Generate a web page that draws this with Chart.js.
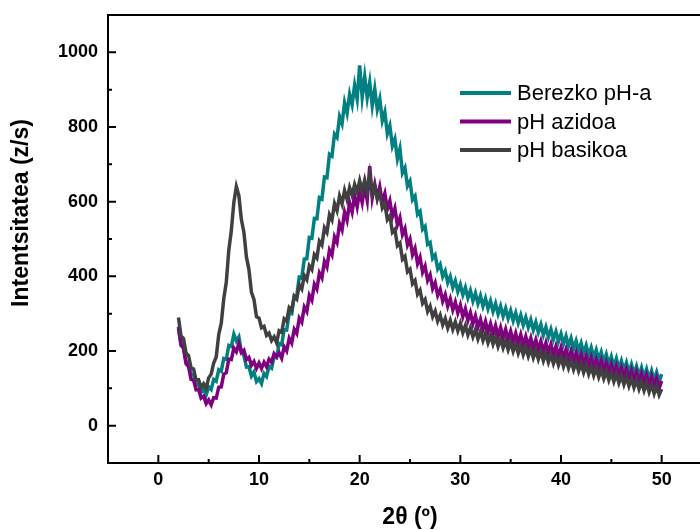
<!DOCTYPE html>
<html>
<head>
<meta charset="utf-8">
<script src="https://cdn.jsdelivr.net/npm/chart.js@4"></script>
<style>
  html, body { margin: 0; padding: 0; background: #fff; overflow: hidden; }
  #wrap { width: 720px; height: 530px; }
</style>
</head>
<body>
<div id="wrap"><canvas id="xrd" width="720" height="530"></canvas></div>
<script>
// 2-theta positions (deg), 0.25 step
const twoTheta = [
  2, 2.25, 2.5, 2.75, 3, 3.25, 3.5, 3.75, 4, 4.25, 4.5, 4.75, 5, 5.25, 5.5, 5.75,
  6, 6.25, 6.5, 6.75, 7, 7.25, 7.5, 7.75, 8, 8.25, 8.5, 8.75, 9, 9.25, 9.5, 9.75,
  10, 10.25, 10.5, 10.75, 11, 11.25, 11.5, 11.75, 12, 12.25, 12.5, 12.75, 13, 13.25, 13.5, 13.75,
  14, 14.25, 14.5, 14.75, 15, 15.25, 15.5, 15.75, 16, 16.25, 16.5, 16.75, 17, 17.25, 17.5, 17.75,
  18, 18.25, 18.5, 18.75, 19, 19.25, 19.5, 19.75, 20, 20.25, 20.5, 20.75, 21, 21.25, 21.5, 21.75,
  22, 22.25, 22.5, 22.75, 23, 23.25, 23.5, 23.75, 24, 24.25, 24.5, 24.75, 25, 25.25, 25.5, 25.75,
  26, 26.25, 26.5, 26.75, 27, 27.25, 27.5, 27.75, 28, 28.25, 28.5, 28.75, 29, 29.25, 29.5, 29.75,
  30, 30.25, 30.5, 30.75, 31, 31.25, 31.5, 31.75, 32, 32.25, 32.5, 32.75, 33, 33.25, 33.5, 33.75,
  34, 34.25, 34.5, 34.75, 35, 35.25, 35.5, 35.75, 36, 36.25, 36.5, 36.75, 37, 37.25, 37.5, 37.75,
  38, 38.25, 38.5, 38.75, 39, 39.25, 39.5, 39.75, 40, 40.25, 40.5, 40.75, 41, 41.25, 41.5, 41.75,
  42, 42.25, 42.5, 42.75, 43, 43.25, 43.5, 43.75, 44, 44.25, 44.5, 44.75, 45, 45.25, 45.5, 45.75,
  46, 46.25, 46.5, 46.75, 47, 47.25, 47.5, 47.75, 48, 48.25, 48.5, 48.75, 49, 49.25, 49.5, 49.75,
  50
];

// Berezko pH-a
const berezko = [
  260, 215, 208, 172, 168, 137, 136, 109, 112, 89, 98, 82, 104, 97, 124, 119,
  150, 146, 180, 178, 215, 212, 245, 227, 238, 197, 188, 157, 158, 133, 144, 118,
  126, 113, 140, 132, 159, 154, 185, 182, 220, 217, 257, 256, 302, 300, 347, 348,
  398, 396, 446, 447, 504, 502, 555, 554, 611, 607, 666, 664, 727, 722, 781, 772,
  828, 809, 865, 837, 888, 860, 912, 875, 965, 880, 935, 878, 920, 857, 902, 847,
  875, 817, 840, 782, 803, 749, 768, 715, 742, 677, 691, 642, 655, 605, 615, 566,
  574, 526, 534, 486, 491, 448, 457, 420, 432, 399, 414, 383, 400, 370, 388, 359,
  378, 350, 370, 342, 362, 334, 355, 327, 348, 320, 341, 313, 334, 306, 327, 299,
  320, 293, 314, 287, 308, 281, 302, 275, 296, 269, 290, 263, 284, 256, 277, 250,
  271, 243, 264, 237, 258, 231, 252, 225, 246, 219, 240, 213, 234, 206, 227, 200,
  221, 194, 215, 188, 209, 182, 203, 176, 197, 170, 191, 164, 185, 158, 180, 153,
  174, 148, 169, 142, 164, 138, 159, 133, 155, 129, 151, 125, 147, 121, 143, 118,
  138
];

// pH azidoa
const azidoa = [
  265, 218, 208, 166, 158, 124, 122, 96, 97, 74, 79, 59, 69, 56, 75, 74,
  103, 104, 138, 142, 178, 177, 208, 198, 220, 196, 202, 177, 183, 162, 172, 154,
  168, 153, 170, 158, 178, 170, 193, 185, 195, 181, 211, 200, 234, 221, 258, 247,
  288, 277, 318, 306, 349, 336, 379, 366, 409, 396, 440, 425, 470, 457, 506, 491,
  541, 524, 572, 550, 597, 572, 616, 586, 628, 597, 640, 604, 695, 610, 646, 610,
  640, 600, 622, 580, 602, 560, 582, 538, 557, 512, 528, 484, 500, 458, 475, 434,
  451, 411, 427, 389, 404, 367, 383, 349, 365, 333, 351, 320, 340, 310, 331, 302,
  323, 292, 313, 282, 303, 273, 294, 264, 285, 257, 279, 251, 273, 245, 268, 240,
  263, 235, 258, 230, 253, 225, 248, 221, 244, 216, 239, 212, 235, 207, 230, 203,
  226, 199, 222, 195, 218, 190, 213, 186, 209, 181, 204, 177, 200, 172, 195, 168,
  191, 163, 186, 159, 182, 154, 177, 150, 173, 145, 168, 141, 164, 136, 159, 132,
  155, 128, 151, 124, 147, 120, 143, 116, 139, 112, 135, 108, 131, 104, 127, 100,
  120
];

// pH basikoa
const basikoa = [
  290, 240, 233, 195, 188, 155, 152, 122, 123, 102, 112, 100, 128, 138, 168, 184,
  244, 274, 340, 384, 470, 522, 598, 640, 616, 552, 518, 452, 418, 357, 338, 292,
  288, 262, 266, 242, 248, 228, 238, 222, 254, 250, 286, 280, 316, 309, 347, 339,
  377, 366, 402, 391, 428, 418, 458, 449, 494, 484, 530, 518, 565, 551, 595, 576,
  615, 594, 630, 606, 638, 617, 646, 626, 656, 628, 658, 628, 672, 620, 642, 607,
  624, 583, 594, 552, 562, 518, 526, 482, 489, 446, 454, 412, 419, 380, 389, 352,
  363, 328, 338, 306, 320, 292, 307, 280, 296, 270, 287, 262, 282, 258, 278, 254,
  274, 249, 268, 243, 262, 238, 257, 232, 252, 228, 247, 222, 242, 218, 237, 212,
  232, 208, 227, 203, 223, 199, 218, 194, 214, 190, 210, 186, 206, 182, 202, 178,
  198, 174, 194, 170, 190, 166, 186, 162, 182, 158, 178, 154, 174, 150, 170, 146,
  166, 142, 162, 138, 158, 134, 154, 130, 150, 126, 146, 122, 142, 118, 138, 114,
  134, 110, 130, 106, 126, 102, 122, 98, 118, 94, 114, 90, 110, 86, 106, 82,
  98
];

const seriesNames = ['Berezko pH-a', 'pH azidoa', 'pH basikoa'];
const seriesColors = ['#008080', '#800080', '#404040'];

const xTicks = [0, 10, 20, 30, 40, 50];
const xMinor = [5, 15, 25, 35, 45];
const yTicks = [0, 200, 400, 600, 800, 1000];
const yMinor = [100, 300, 500, 700, 900];

Chart.defaults.font.family = '"Liberation Sans", Arial, sans-serif';
Chart.defaults.color = '#000';

const toPoints = (vals) => vals.map((v, i) => ({ x: twoTheta[i], y: v }));

// frame, inward tick marks, axis titles, legend
const frameTicks = {
  id: 'frameTicks',
  afterDraw(chart) {
    const { ctx, chartArea: a, scales: { x, y } } = chart;
    ctx.save();
    ctx.strokeStyle = '#000';
    ctx.lineWidth = 2;
    ctx.beginPath();
    ctx.moveTo(a.left, a.top); ctx.lineTo(a.right, a.top);
    ctx.lineTo(a.right, a.bottom); ctx.lineTo(a.left, a.bottom);
    ctx.closePath();
    yTicks.forEach(v => { const p = y.getPixelForValue(v); ctx.moveTo(a.left, p); ctx.lineTo(a.left + 8, p); });
    yMinor.forEach(v => { const p = y.getPixelForValue(v); ctx.moveTo(a.left, p); ctx.lineTo(a.left + 4, p); });
    xTicks.forEach(v => { const p = x.getPixelForValue(v); ctx.moveTo(p, a.bottom); ctx.lineTo(p, a.bottom - 8); });
    xMinor.forEach(v => { const p = x.getPixelForValue(v); ctx.moveTo(p, a.bottom); ctx.lineTo(p, a.bottom - 4); });
    ctx.stroke();

    ctx.fillStyle = '#000';
    ctx.font = 'bold 23px "Liberation Sans", Arial, sans-serif';
    ctx.textAlign = 'center';
    ctx.textBaseline = 'middle';
    ctx.fillText('2θ (º)', (a.left + a.right) / 2, 518);
    ctx.translate(22, 213);
    ctx.rotate(-Math.PI / 2);
    ctx.fillText('Intentsitatea (z/s)', 0, 0);
    ctx.restore();

    ctx.save();
    ctx.font = '22px "Liberation Sans", Arial, sans-serif';
    ctx.textAlign = 'left';
    ctx.textBaseline = 'middle';
    ctx.lineWidth = 4;
    chart.data.datasets.forEach((ds, i) => {
      const ly = 93 + i * 28.5;
      ctx.strokeStyle = ds.borderColor;
      ctx.beginPath();
      ctx.moveTo(460, ly); ctx.lineTo(511, ly);
      ctx.stroke();
      ctx.fillStyle = '#000';
      ctx.fillText(ds.label, 517, ly + 1);
    });
    ctx.restore();
  }
};

new Chart(document.getElementById('xrd'), {
  type: 'line',
  data: {
    datasets: [
      { label: seriesNames[0], data: toPoints(berezko), borderColor: seriesColors[0], order: 2 },
      { label: seriesNames[1], data: toPoints(azidoa), borderColor: seriesColors[1], order: 1 },
      { label: seriesNames[2], data: toPoints(basikoa), borderColor: seriesColors[2], order: 0 }
    ]
  },
  options: {
    responsive: false,
    animation: false,
    datasets: { line: { borderWidth: 3.5, pointRadius: 0, tension: 0, fill: false } },
    layout: { padding: { top: 15, right: 8, left: 0, bottom: 0 } },
    plugins: { legend: { display: false }, tooltip: { enabled: false } },
    scales: {
      x: {
        type: 'linear',
        min: -5, max: 55,
        grid: { display: false, drawTicks: false },
        border: { display: false },
        afterBuildTicks: (s) => { s.ticks = xTicks.map(v => ({ value: v })); },
        afterFit: (s) => { s.height = 67; s.paddingLeft = 0; s.paddingRight = 0; },
        ticks: { padding: 6, maxRotation: 0, font: { size: 18, weight: 'bold' }, callback: (v) => String(v) }
      },
      y: {
        min: -100, max: 1100,
        grid: { display: false, drawTicks: false },
        border: { display: false },
        afterBuildTicks: (s) => { s.ticks = yTicks.map(v => ({ value: v })); },
        afterFit: (s) => { s.width = 108; s.paddingTop = 0; s.paddingBottom = 0; },
        ticks: { padding: 10, font: { size: 18, weight: 'bold' }, callback: (v) => String(v) }
      }
    }
  },
  plugins: [frameTicks]
});
</script>
</body>
</html>
